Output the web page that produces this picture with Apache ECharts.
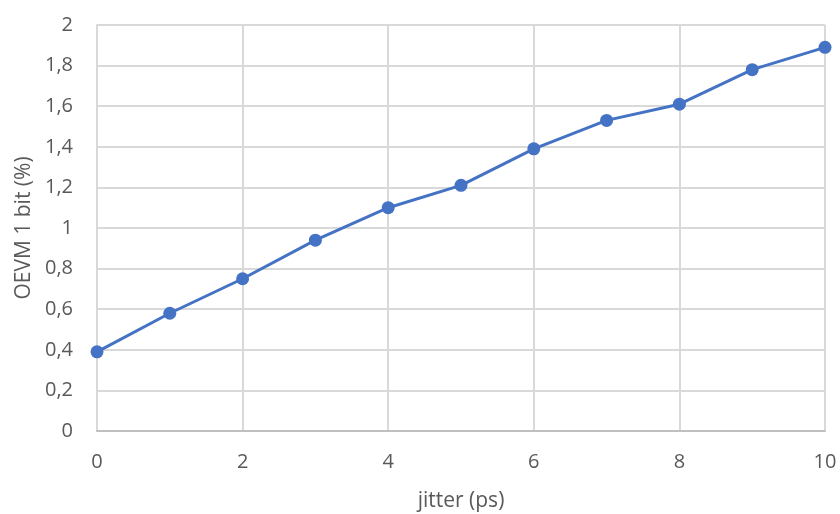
<!DOCTYPE html>
<html>
<head>
<meta charset="utf-8">
<script src="https://cdn.jsdelivr.net/npm/echarts@6/dist/echarts.min.js"></script>
<style>html,body{margin:0;padding:0;background:#fff;}#c{width:840px;height:514px;}</style>
</head>
<body>
<div id="c"></div>
<script>
const jitter = [0, 1, 2, 3, 4, 5, 6, 7, 8, 9, 10];
const oevm = [0.39, 0.58, 0.75, 0.94, 1.10, 1.21, 1.39, 1.53, 1.61, 1.78, 1.89];
const xTitle = 'jitter (ps)';
const yTitle = 'OEVM 1 bit (%)';

const chart = echarts.init(document.getElementById('c'));
const fmt = v => String(Math.round(v * 10) / 10).replace('.', ',');
chart.setOption({
  animation: false,
  grid: { left: 97, right: 15, top: 25, bottom: 83, outerBoundsMode: 'none', containLabel: false },
  xAxis: {
    type: 'value', min: 0, max: 10, interval: 2,
    name: xTitle, nameLocation: 'middle', nameGap: 60,
    nameTextStyle: { color: '#595959', fontSize: 21, fontFamily: 'Open Sans' },
    axisLine: { show: true, lineStyle: { color: '#bfbfbf', width: 2 } },
    axisTick: { show: false },
    axisLabel: { color: '#595959', fontSize: 20, fontFamily: 'Open Sans', margin: 21 },
    splitLine: { show: true, lineStyle: { color: '#d9d9d9', width: 2 } }
  },
  yAxis: {
    type: 'value', min: 0, max: 2, interval: 0.2,
    name: yTitle, nameLocation: 'middle', nameGap: 62,
    nameTextStyle: { color: '#595959', fontSize: 21, fontFamily: 'Open Sans' },
    axisLine: { show: true, lineStyle: { color: '#d9d9d9', width: 2 } },
    axisTick: { show: false },
    axisLabel: { color: '#595959', fontSize: 20, fontFamily: 'Open Sans', margin: 24, formatter: fmt },
    splitLine: { show: true, lineStyle: { color: '#d9d9d9', width: 2 } }
  },
  series: [{
    type: 'line',
    data: jitter.map((x, i) => [x, oevm[i]]),
    symbol: 'circle', symbolSize: 13,
    lineStyle: { color: '#4472C4', width: 3 },
    itemStyle: { color: '#4472C4' }
  }]
});
</script>
</body>
</html>
